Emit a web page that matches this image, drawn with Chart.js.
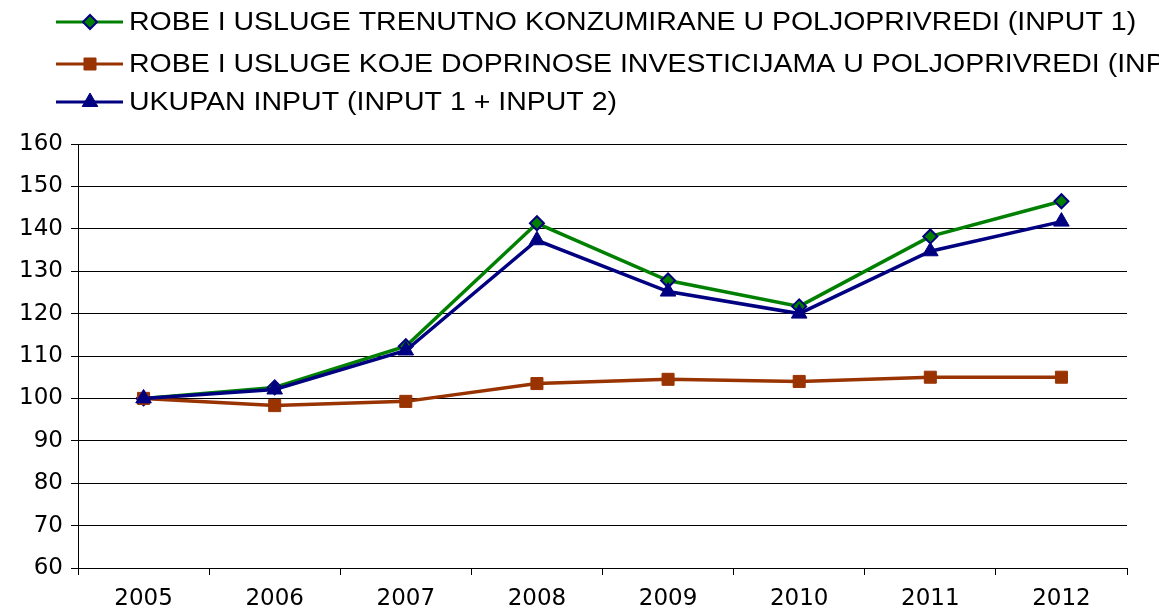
<!DOCTYPE html>
<html>
<head>
<meta charset="utf-8">
<script src="https://cdn.jsdelivr.net/npm/chart.js@4/dist/chart.umd.min.js"></script>
<style>
  html, body { margin: 0; padding: 0; background: #fff; }
  #wrap { width: 1159px; height: 609px; position: relative; }
</style>
</head>
<body>
<div id="wrap"><canvas id="myChart"></canvas></div>
<script>
// data
const years = ['2005', '2006', '2007', '2008', '2009', '2010', '2011', '2012'];
const input1 = [100, 102.6, 112.3, 141.3, 127.8, 121.7, 138.2, 146.5];
const input2 = [100, 98.3, 99.3, 103.5, 104.5, 104.0, 105.0, 105.0];
const ukupno = [100, 102.1, 111.3, 137.3, 125.2, 120.0, 134.7, 141.7];
const seriesNames = [
    'ROBE I USLUGE TRENUTNO KONZUMIRANE U POLJOPRIVREDI (INPUT 1)',
    'ROBE I USLUGE KOJE DOPRINOSE INVESTICIJAMA U POLJOPRIVREDI (INPUT 2)',
    'UKUPAN INPUT (INPUT 1 + INPUT 2)'
];

const FONT = "'Liberation Sans', Arial, sans-serif";
const TICK_FONT = "'DejaVu Sans', sans-serif";

// legend drawn at the top, like the original (text is a bit stretched there)
const topLegend = {
    id: 'topLegend',
    afterDraw(chart) {
        const ctx = chart.ctx;
        const rows = [22, 64, 102];
        chart.data.datasets.forEach(function(ds, i) {
            const y = rows[i];
            ctx.save();
            ctx.strokeStyle = ds.borderColor;
            ctx.lineWidth = 3;
            ctx.beginPath();
            ctx.moveTo(56, y);
            ctx.lineTo(123, y);
            ctx.stroke();
            ctx.fillStyle = ds.pointBackgroundColor;
            ctx.strokeStyle = ds.pointBorderColor;
            ctx.lineWidth = ds.pointBorderWidth;
            Chart.helpers.drawPoint(ctx, {
                pointStyle: ds.pointStyle,
                radius: ds.pointRadius,
                borderWidth: ds.pointBorderWidth
            }, 90, y);
            ctx.fillStyle = '#000';
            ctx.font = '25px ' + FONT;
            ctx.textBaseline = 'middle';
            ctx.translate(129, y + 1);
            ctx.scale(1.14, 1);
            ctx.fillText(ds.label, 0, 0);
            ctx.restore();
        });
    }
};

const ctx = document.getElementById('myChart').getContext('2d');
new Chart(ctx, {
    type: 'line',
    data: {
        labels: years,
        datasets: [
            {
                label: seriesNames[0],
                data: input1,
                borderColor: '#008000',
                borderWidth: 3.5,
                pointStyle: 'rectRot',
                pointRadius: 7,
                pointBackgroundColor: '#008000',
                pointBorderColor: '#000080',
                pointBorderWidth: 2,
                tension: 0,
                order: 3
            },
            {
                label: seriesNames[1],
                data: input2,
                borderColor: '#993300',
                borderWidth: 3.5,
                pointStyle: 'rect',
                pointRadius: 8.5,
                pointBackgroundColor: '#993300',
                pointBorderColor: '#993300',
                pointBorderWidth: 1,
                tension: 0,
                order: 2
            },
            {
                label: seriesNames[2],
                data: ukupno,
                borderColor: '#000080',
                borderWidth: 3.5,
                pointStyle: 'triangle',
                pointRadius: 9,
                pointBackgroundColor: '#000080',
                pointBorderColor: '#000080',
                pointBorderWidth: 1,
                tension: 0,
                order: 1
            }
        ]
    },
    options: {
        responsive: true,
        maintainAspectRatio: false,
        animation: false,
        layout: { padding: { top: 144, right: 32, left: 0, bottom: 0 } },
        plugins: {
            legend: { display: false },
            tooltip: { enabled: false }
        },
        scales: {
            x: {
                offset: true,
                afterFit: function(scale) { scale.height = 41; },
                grid: {
                    offset: true,
                    drawOnChartArea: false,
                    color: '#000',
                    tickLength: 7
                },
                border: { color: '#000', width: 1 },
                ticks: {
                    color: '#000',
                    font: { family: TICK_FONT, size: 23 },
                    padding: 10,
                    maxRotation: 0
                }
            },
            y: {
                min: 60,
                max: 160,
                afterFit: function(scale) { scale.width = 78; },
                grid: {
                    color: '#000',
                    tickLength: 7
                },
                border: { color: '#000', width: 1 },
                ticks: {
                    stepSize: 10,
                    color: '#000',
                    font: { family: TICK_FONT, size: 23 },
                    padding: 8
                }
            }
        }
    },
    plugins: [topLegend]
});
</script>
</body>
</html>
